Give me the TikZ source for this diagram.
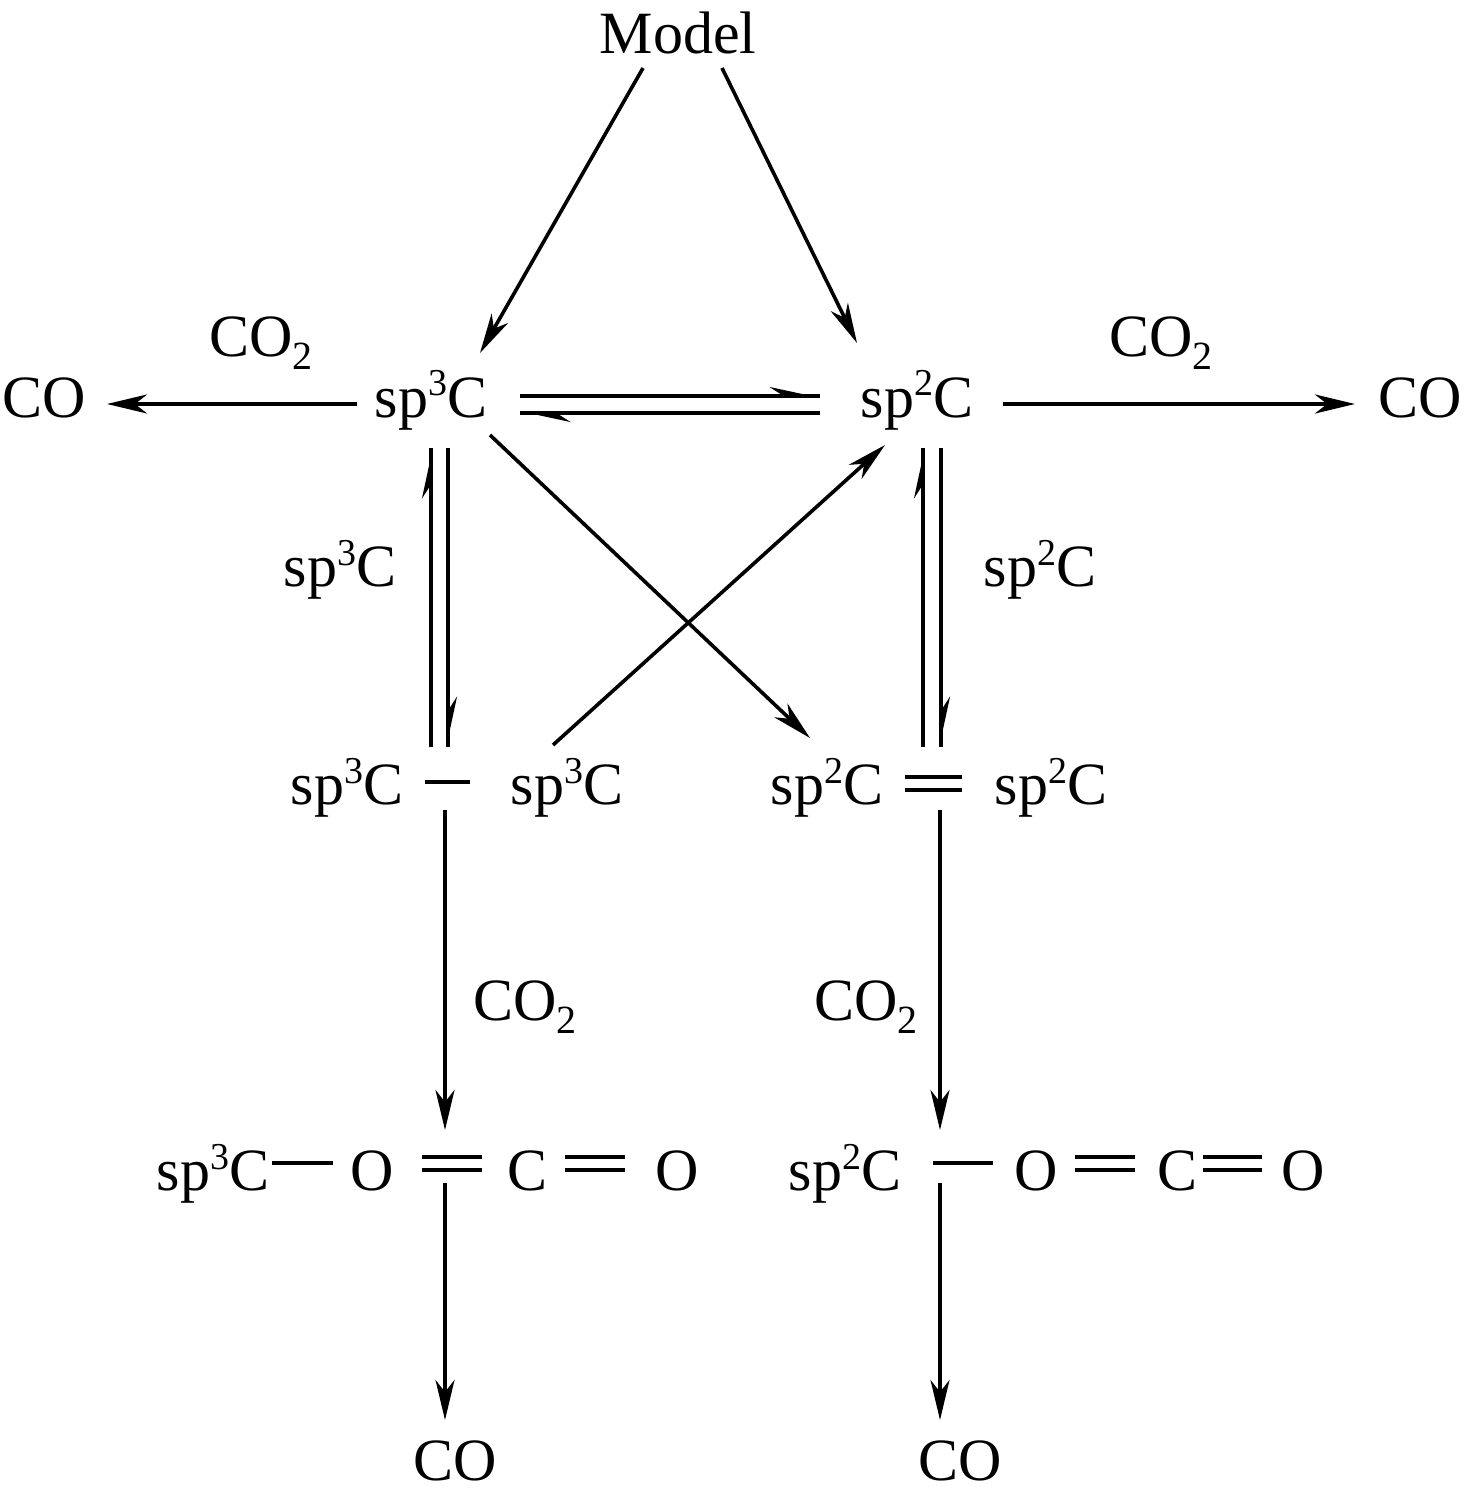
\documentclass[tikz,border=0pt]{standalone}
\usepackage{fontspec}
\setmainfont{Liberation Serif}
\usetikzlibrary{arrows.meta}
\newcommand{\upsc}[1]{\raisebox{10.5pt}{\fontsize{19}{19}\selectfont #1}}
\newcommand{\dnsc}[1]{\raisebox{-6.5pt}{\fontsize{20}{20}\selectfont #1}}
\begin{document}
\begin{tikzpicture}[x=0.5pt,y=-0.5pt,
  txt/.style={anchor=base,inner sep=0pt,font=\fontsize{30}{36}\selectfont},
  arr/.style={line width=1.8pt,-{Stealth[length=20pt,width=9.5pt,inset=6pt]}},
  harp/.style={line width=1.8pt,-{Stealth[length=21pt,width=9pt,inset=7pt,harpoon]}},
  plain/.style={line width=1.8pt},
  bond/.style={line width=1.6pt}]
\useasboundingbox (0,0) rectangle (1465,1502);
% texts
\node[txt] (model) at (678,54) {Model};
\node[txt] (coL) at (44,417) {CO};
\node[txt] (s3) at (431,417) {sp\upsc{3}C};
\node[txt] (s2) at (917,417) {sp\upsc{2}C};
\node[txt] (coR) at (1420,417) {CO};
\node[txt] (lTL) at (261,357) {CO\dnsc{2}};
\node[txt] (lTR) at (1161,357) {CO\dnsc{2}};
\node[txt] (lS3) at (340,586) {sp\upsc{3}C};
\node[txt] (lS2) at (1040,586) {sp\upsc{2}C};
\node[txt] (m1) at (347,804) {sp\upsc{3}C};
\node[txt] (m2) at (567,804) {sp\upsc{3}C};
\node[txt] (m3) at (827,804) {sp\upsc{2}C};
\node[txt] (m4) at (1051,804) {sp\upsc{2}C};
\node[txt] (lBL) at (525,1020) {CO\dnsc{2}};
\node[txt] (lBR) at (866,1020) {CO\dnsc{2}};
\node[txt] (b1) at (213,1190) {sp\upsc{3}C};
\node[txt] (b2) at (372,1190) {O};
\node[txt] (b3) at (528,1190) {C};
\node[txt] (b4) at (677,1190) {O};
\node[txt] (c1) at (845,1190) {sp\upsc{2}C};
\node[txt] (c2) at (1036,1190) {O};
\node[txt] (c3) at (1177,1190) {C};
\node[txt] (c4) at (1303,1190) {O};
\node[txt] (coB1) at (455,1480) {CO};
\node[txt] (coB2) at (960,1480) {CO};
% connector end points
\coordinate (mA) at (643,68);  \coordinate (mAe) at (480,353);
\coordinate (mB) at (722,68);  \coordinate (mBe) at (857,343);
\coordinate (s3W) at (357,404); \coordinate (coLE) at (107,404);
\coordinate (s2E) at (1003,404); \coordinate (coRW) at (1355,404);
\coordinate (eqA) at (520,396); \coordinate (eqB) at (820,396);
\coordinate (eqC) at (820,413); \coordinate (eqD) at (520,413);
\coordinate (v1a) at (431,747); \coordinate (v1b) at (431,448);
\coordinate (v2a) at (448,448); \coordinate (v2b) at (448,747);
\coordinate (v3a) at (923,747); \coordinate (v3b) at (923,448);
\coordinate (v4a) at (941,448); \coordinate (v4b) at (941,747);
\coordinate (dA) at (490,435); \coordinate (dAe) at (810,738);
\coordinate (dB) at (553,745); \coordinate (dBe) at (885,445);
\coordinate (p1) at (445,810); \coordinate (p1e) at (445,1130);
\coordinate (p2) at (940,810); \coordinate (p2e) at (940,1130);
\coordinate (q1) at (445,1183); \coordinate (q1e) at (445,1420);
\coordinate (q2) at (940,1183); \coordinate (q2e) at (940,1420);
% arrows
\draw[arr] (mA) -- (mAe);
\draw[arr] (mB) -- (mBe);
\draw[arr] (s3W) -- (coLE);
\draw[arr] (s2E) -- (coRW);
\foreach \a/\b in {eqA/eqB,eqC/eqD,v1a/v1b,v2a/v2b,v3a/v3b,v4a/v4b}{
  \draw[plain] (\a) -- (\b);
  \draw[harp] (\a) -- (\b);
}
\draw[arr] (dA) -- (dAe);
\draw[arr] (dB) -- (dBe);
\draw[arr] (p1) -- (p1e);
\draw[arr] (p2) -- (p2e);
\draw[arr] (q1) -- (q1e);
\draw[arr] (q2) -- (q2e);
% bonds
\draw[bond] (425,782) -- (470,782);
\draw[bond] (905,777) -- (962,777) (905,790) -- (962,790);
\draw[bond] (272,1163) -- (333,1163);
\draw[bond] (422,1157) -- (482,1157) (422,1170) -- (482,1170);
\draw[bond] (565,1157) -- (625,1157) (565,1170) -- (625,1170);
\draw[bond] (933,1163) -- (993,1163);
\draw[bond] (1075,1157) -- (1135,1157) (1075,1170) -- (1135,1170);
\draw[bond] (1203,1157) -- (1262,1157) (1203,1170) -- (1262,1170);
\end{tikzpicture}
\end{document}
